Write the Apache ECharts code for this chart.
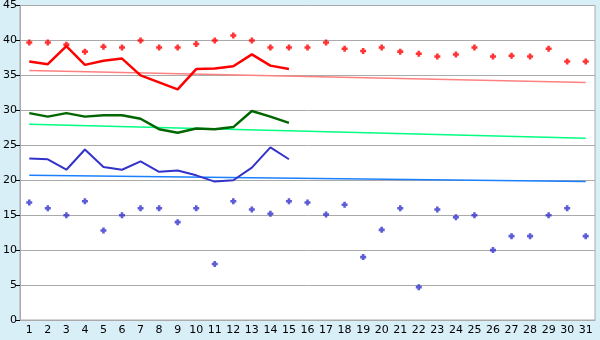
<!DOCTYPE html>
<html><head><meta charset="utf-8">
<script src="https://cdn.jsdelivr.net/npm/echarts@6/dist/echarts.min.js"></script>
<style>html,body{margin:0;padding:0;background:#d8eff7}#c{width:600px;height:340px}</style>
</head><body><div id="c"></div>
<script>
const days = ['1','2','3','4','5','6','7','8','9','10','11','12','13','14','15','16','17','18','19','20','21','22','23','24','25','26','27','28','29','30','31'];
const yTicks = {min: 0, max: 45, interval: 5};
const maxRecord = [39.7,39.7,39.4,38.4,39.1,39.0,40.0,39.0,39.0,39.5,40.0,40.7,40.0,39.0,39.0,39.0,39.7,38.8,38.5,39.0,38.4,38.1,37.7,38.0,39.0,37.7,37.8,37.7,38.8,37.0,37.0];
const maxActual = [37.0,36.6,39.2,36.5,37.1,37.4,35.0,34.0,33.0,35.9,36.0,36.3,38.0,36.4,35.9];
const maxTrendEnds = [35.7,34.0];
const meanActual = [29.6,29.1,29.6,29.1,29.3,29.3,28.8,27.3,26.8,27.4,27.3,27.6,29.9,29.1,28.2];
const meanTrendEnds = [28.0,26.0];
const minActual = [23.1,23.0,21.5,24.4,21.9,21.5,22.7,21.2,21.4,20.7,19.8,20.0,21.8,24.7,23.0];
const minTrendEnds = [20.7,19.8];
const minRecord = [16.8,16.0,15.0,17.0,12.8,15.0,16.0,16.0,14.0,16.0,8.0,17.0,15.8,15.2,17.0,16.8,15.1,16.5,9.0,12.9,16.0,4.7,15.8,14.7,15.0,10.0,12.0,12.0,15.0,16.0,12.0];

function ends(e){ const a = days.map(()=>null); a[0]=e[0]; a[a.length-1]=e[1]; return a; }
const plus = 'path://M2,0H5V2H7V5H5V7H2V5H0V2H2Z';
const chart = echarts.init(document.getElementById('c'));
chart.setOption({
  backgroundColor: '#d8eff7',
  animation: false,
  grid: {left: 19, right: 5, top: 5, bottom: 20, show: true, backgroundColor: '#ffffff', borderColor: '#aaaaaa', borderWidth: 1},
  xAxis: {type: 'category', data: days, boundaryGap: true,
    axisLine: {lineStyle: {color: '#aaaaaa'}},
    axisTick: {alignWithLabel: true, length: 5, lineStyle: {color: '#000'}},
    axisLabel: {color: '#000', fontFamily: 'DejaVu Sans', fontSize: 11, margin: 5, interval: 0}},
  yAxis: {type: 'value', min: yTicks.min, max: yTicks.max, interval: yTicks.interval,
    axisLine: {show: true, lineStyle: {color: '#aaaaaa'}},
    axisTick: {show: true, length: 4, lineStyle: {color: '#000'}},
    axisLabel: {color: '#000', fontFamily: 'DejaVu Sans', fontSize: 11, margin: 3},
    splitLine: {lineStyle: {color: '#aaaaaa', width: 1}}},
  series: [
    {type: 'line', data: ends(maxTrendEnds), connectNulls: true, showSymbol: false, lineStyle: {color: '#ff8080', width: 1.5}},
    {type: 'line', data: ends(meanTrendEnds), connectNulls: true, showSymbol: false, lineStyle: {color: '#00ff80', width: 1.5}},
    {type: 'line', data: ends(minTrendEnds), connectNulls: true, showSymbol: false, lineStyle: {color: '#1a80ff', width: 1.5}},
    {type: 'line', data: maxActual, showSymbol: false, lineStyle: {color: '#ff0000', width: 2.5}},
    {type: 'line', data: meanActual, showSymbol: false, lineStyle: {color: '#006600', width: 2.5}},
    {type: 'line', data: minActual, showSymbol: false, lineStyle: {color: '#3333cc', width: 2}},
    {type: 'scatter', data: maxRecord, symbol: plus, symbolSize: 6, itemStyle: {color: '#ff0000'}},
    {type: 'scatter', data: minRecord, symbol: plus, symbolSize: 6, itemStyle: {color: '#3333cc'}}
  ]
});
</script></body></html>
